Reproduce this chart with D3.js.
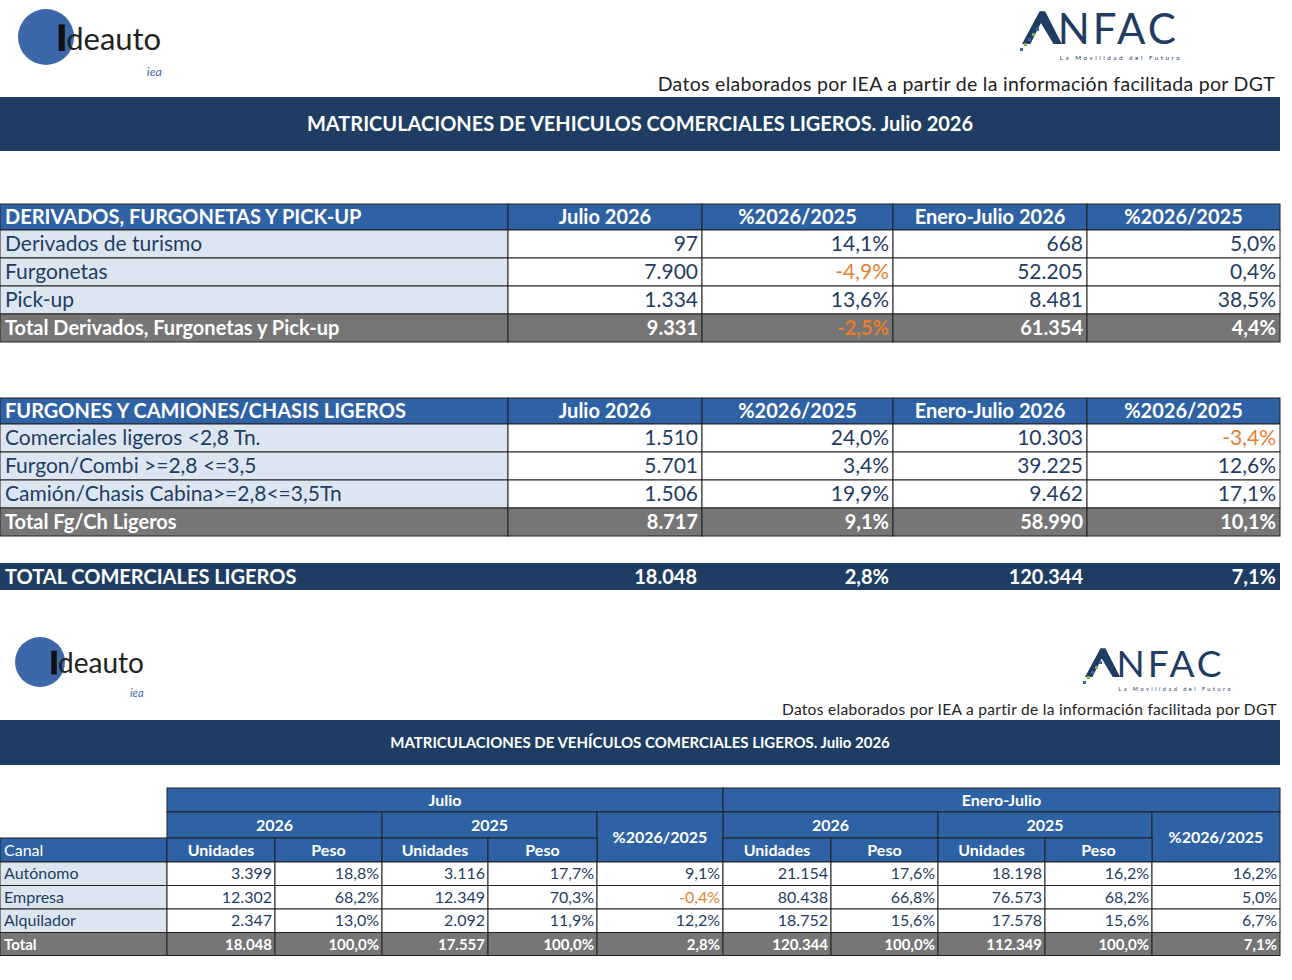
<!DOCTYPE html><html><head><meta charset="utf-8"><script src="https://cdn.jsdelivr.net/npm/d3@7"></script>
<style>body{margin:0;background:#fff}svg{display:block}text{font-family:Lato,"Open Sans",sans-serif}</style></head><body><svg id="c" width="1292" height="980"></svg><script>
const t1Header=["DERIVADOS, FURGONETAS Y PICK-UP","Julio 2026","%2026/2025","Enero-Julio 2026","%2026/2025"];
const t1Rows=[["Derivados de turismo","97","14,1%","668","5,0%"],["Furgonetas","7.900","-4,9%","52.205","0,4%"],["Pick-up","1.334","13,6%","8.481","38,5%"]];
const t1Total=["Total Derivados, Furgonetas y Pick-up","9.331","-2,5%","61.354","4,4%"];
const t2Header=["FURGONES Y CAMIONES/CHASIS LIGEROS","Julio 2026","%2026/2025","Enero-Julio 2026","%2026/2025"];
const t2Rows=[["Comerciales ligeros <2,8 Tn.","1.510","24,0%","10.303","-3,4%"],["Furgon/Combi >=2,8 <=3,5","5.701","3,4%","39.225","12,6%"],["Camión/Chasis Cabina>=2,8<=3,5Tn","1.506","19,9%","9.462","17,1%"]];
const t2Total=["Total Fg/Ch Ligeros","8.717","9,1%","58.990","10,1%"];
const grandTotal=["TOTAL COMERCIALES LIGEROS","18.048","2,8%","120.344","7,1%"];
const canalRows=[["Autónomo","3.399","18,8%","3.116","17,7%","9,1%","21.154","17,6%","18.198","16,2%","16,2%"],
["Empresa","12.302","68,2%","12.349","70,3%","-0,4%","80.438","66,8%","76.573","68,2%","5,0%"],
["Alquilador","2.347","13,0%","2.092","11,9%","12,2%","18.752","15,6%","17.578","15,6%","6,7%"]];
const canalTotal=["Total","18.048","100,0%","17.557","100,0%","2,8%","120.344","100,0%","112.349","100,0%","7,1%"];
const subHeads=["Canal","Unidades","Peso","Unidades","Peso","","Unidades","Peso","Unidades","Peso",""];

const svg=d3.select("#c");
const NAVY="#1f3d63",BLUE="#2f62a5",GRAY="#767676",LB="#dce6f1",ORANGE="#e87f2e";
const isNeg=s=>s.startsWith("-");

function logo(x,y,r,fs){
  const g=svg.append("g");
  g.append("circle").attr("cx",x).attr("cy",y).attr("r",r).attr("fill","#3c67a8");
  g.append("rect").attr("x",x+r*0.45).attr("y",y-r*0.45).attr("width",r*0.22).attr("height",r*0.95).attr("fill","#111");
  g.append("text").attr("x",x+r*0.72).attr("y",y+r*0.45).attr("font-size",fs).attr("fill","#222").text("deauto");
  g.append("text").attr("x",x+r*3.6).attr("y",y+r*1.4).attr("font-size",fs*0.4).attr("font-style","italic").attr("fill","#3c67a8").text("iea");
}
function anfac(x,y,fs){
  const g=svg.append("g");
  g.append("path").attr("d",`M${x},${y} L${x+fs*0.42},${y-fs*0.78} L${x+fs*0.55},${y-fs*0.78} L${x+fs*0.95},${y} L${x+fs*0.75},${y} L${x+fs*0.45},${y-fs*0.5} L${x+fs*0.2},${y}Z`).attr("fill","#1f3d63");
  g.append("text").attr("x",x+fs*0.85).attr("y",y).attr("font-size",fs).attr("fill","#1f3d63").attr("letter-spacing",3).text("NFAC");
  g.append("text").attr("x",x+fs*0.9).attr("y",y+fs*0.38).attr("font-size",fs*0.15).attr("fill","#1f3d63").attr("letter-spacing",2.5).text("La Movilidad del Futuro");
  for(let i=0;i<5;i++)g.append("rect").attr("x",x-2+i*4).attr("y",y+4-i*5).attr("width",3).attr("height",3).attr("fill",i%2?"#7fb04a":"#3c67a8");
}
logo(46,37,28,31); anfac(1022,44,42);
logo(40,662,25,28); anfac(1085,677,37);

svg.append("text").attr("x",1275).attr("y",91).attr("text-anchor","end").attr("font-size",19.5).attr("letter-spacing",0.3).attr("fill","#222").text("Datos elaborados por IEA a partir de la información facilitada por DGT");
svg.append("rect").attr("x",0).attr("y",97).attr("width",1280).attr("height",54).attr("fill",NAVY);
svg.append("text").attr("x",640).attr("y",131).attr("text-anchor","middle").attr("font-size",20).attr("font-weight","bold").attr("fill","#fff").text("MATRICULACIONES DE VEHICULOS COMERCIALES LIGEROS. Julio 2026");

const cx=[0,508,702,893,1087,1280];
const x1=d3.scaleOrdinal().domain(d3.range(5)).range(cx.slice(0,5));
const wOf=i=>cx[i+1]-cx[i];
function row(cells,y,h,fill,opts){
  const g=svg.append("g");
  cells.forEach((c,i)=>{
    const bg=typeof fill==="function"?fill(i):fill;
    g.append("rect").attr("x",x1(i)).attr("y",y).attr("width",wOf(i)).attr("height",h).attr("fill",bg).attr("stroke","#222").attr("stroke-width",1);
    const left=i===0;
    const tx=left?x1(i)+5:(opts.center?x1(i)+wOf(i)/2:x1(i)+wOf(i)-4);
    g.append("text").attr("x",tx).attr("y",y+h/2+7).attr("text-anchor",left?"start":(opts.center?"middle":"end"))
     .attr("font-size",opts.fs||20).attr("font-weight",opts.bold?"bold":"normal")
     .attr("fill",(i>0&&isNeg(c))?ORANGE:(opts.color||"#1f3d63")).text(c);
  });
}
function table(head,rows,total,y0){
  row(head,y0,26,BLUE,{center:true,bold:true,color:"#fff"});
  let y=y0+26;
  rows.forEach(r=>{row(r,y,28,i=>i===0?LB:"#fff",{color:"#1f3d63",fs:21});y+=28;});
  row(total,y,28,GRAY,{bold:true,color:"#fff"});
}
table(t1Header,t1Rows,t1Total,204);
table(t2Header,t2Rows,t2Total,398);
svg.append("rect").attr("x",0).attr("y",563).attr("width",1280).attr("height",27).attr("fill",NAVY);
grandTotal.forEach((c,i)=>svg.append("text").attr("x",i===0?5:(i===1?697:x1(i)+wOf(i)-4)).attr("y",584).attr("text-anchor",i===0?"start":"end").attr("font-size",20).attr("font-weight","bold").attr("fill","#fff").text(c));

// bottom
svg.append("text").attr("x",1277).attr("y",715).attr("text-anchor","end").attr("font-size",15.5).attr("letter-spacing",0.3).attr("fill","#222").text("Datos elaborados por IEA a partir de la información facilitada por DGT");
svg.append("rect").attr("x",0).attr("y",720).attr("width",1280).attr("height",45).attr("fill",NAVY);
svg.append("text").attr("x",640).attr("y",748).attr("text-anchor","middle").attr("font-size",15).attr("font-weight","bold").attr("fill","#fff").text("MATRICULACIONES DE VEHÍCULOS COMERCIALES LIGEROS. Julio 2026");

const bx=[0,167,275,382,488,597,723,831,938,1045,1152,1280];
const xb=d3.scaleOrdinal().domain(d3.range(11)).range(bx.slice(0,11));
const bw=i=>bx[i+1]-bx[i];
function cell(x,y,w,h,fill,txt,anchor,color,bold,fs){
  svg.append("rect").attr("x",x).attr("y",y).attr("width",w).attr("height",h).attr("fill",fill).attr("stroke","#222").attr("stroke-width",1);
  const tx=anchor==="start"?x+4:anchor==="middle"?x+w/2:x+w-3;
  svg.append("text").attr("x",tx).attr("y",y+h/2+5.5).attr("text-anchor",anchor).attr("font-size",fs||16).attr("font-weight",bold?"bold":"normal").attr("fill",color).text(txt);
}
cell(167,788,556,24,BLUE,"Julio","middle","#fff",true);
cell(723,788,557,24,BLUE,"Enero-Julio","middle","#fff",true);
[[1,"2026"],[3,"2025"],[6,"2026"],[8,"2025"]].forEach(([i,t])=>cell(xb(i),812,bw(i)+bw(i+1),26,BLUE,t,"middle","#fff",true));
[5,10].forEach(i=>cell(xb(i),812,bw(i),50,BLUE,"%2026/2025","middle","#fff",true));
subHeads.forEach((t,i)=>{if(i!==5&&i!==10)cell(xb(i),838,bw(i),24,BLUE,t,i===0?"start":"middle","#fff",i>0);});
canalRows.forEach((r,k)=>r.forEach((c,i)=>cell(xb(i),862+k*23.5,bw(i),23.5,i===0?LB:"#fff",c,i===0?"start":"end",(i>0&&isNeg(c))?ORANGE:"#1f3d63",false)));
canalTotal.forEach((c,i)=>cell(xb(i),932.5,bw(i),23,GRAY,c,i===0?"start":"end","#fff",true,15));
</script></body></html>
